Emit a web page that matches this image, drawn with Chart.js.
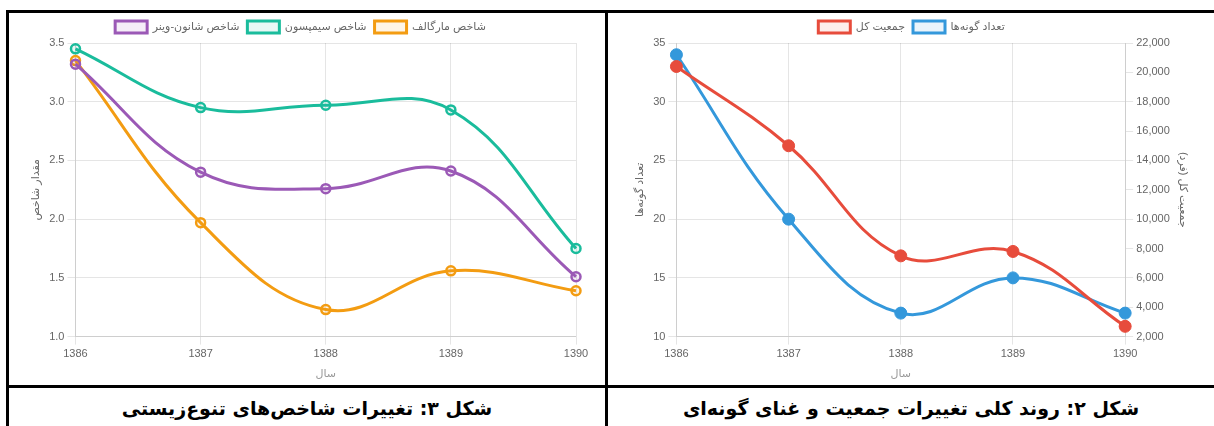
<!DOCTYPE html>
<html lang="fa">
<head>
<meta charset="utf-8">
<title>شکل ۲ و ۳</title>
<script src="https://cdn.jsdelivr.net/npm/chart.js@4.4.1/dist/chart.umd.min.js"></script>
<style>
  html, body { margin: 0; padding: 0; background: #fff; }
  body { width: 1214px; height: 426px; overflow: hidden; position: relative; }
  .frame { position: absolute; left: 6px; top: 10px; width: 1215px; height: 430px;
           border-left: 3px solid #000; border-top: 3px solid #000; box-sizing: border-box; }
  .vline { position: absolute; left: 605px; top: 10px; width: 3px; height: 430px; background: #000; }
  .hline { position: absolute; left: 6px; top: 385px; width: 1214px; height: 3px; background: #000; }
  .box { position: absolute; top: 13px; height: 372px; }
  #boxLeft { left: 9px; width: 596px; }
  #boxRight { left: 608px; width: 606px; }
  .cap { position: absolute; top: 388px; height: 40px; line-height: 40px; text-align: center;
         direction: rtl; font-family: 'DejaVu Sans', sans-serif; font-weight: bold; font-size: 19px; color: #000; }
  #capLeft { left: 9px; width: 596px; }
  #capRight { left: 608px; width: 606px; }
</style>
</head>
<body>
<div class="frame"></div>
<div class="vline"></div>
<div class="hline"></div>
<div class="box" id="boxLeft"><canvas id="indexChart"></canvas></div>
<div class="box" id="boxRight"><canvas id="speciesChart"></canvas></div>
<div class="cap" id="capLeft">شکل ۳: تغییرات شاخص‌های تنوع‌زیستی</div>
<div class="cap" id="capRight">شکل ۲: روند کلی تغییرات جمعیت و غنای گونه‌ای</div>

<script>
const years = ['1386','1387','1388','1389','1390'];

// شکل ۳
const shannon  = [3.32, 2.40, 2.26, 2.41, 1.51];
const simpson  = [3.45, 2.95, 2.97, 2.93, 1.75];
const margalef = [3.35, 1.97, 1.23, 1.56, 1.39];

// شکل ۲
const population = [20400, 15000, 7500, 7800, 2700];
const species    = [34, 20, 12, 15, 12];

Chart.defaults.font.family = "'Helvetica Neue', Helvetica, Arial, 'DejaVu Sans', sans-serif";
Chart.defaults.color = '#666';

function rgba(hex, a){
  const n = parseInt(hex.slice(1), 16);
  return 'rgba(' + (n >> 16) + ',' + ((n >> 8) & 255) + ',' + (n & 255) + ',' + a + ')';
}

function hollowLine(label, data, color){
  return {
    label: label, data: data,
    borderColor: color, backgroundColor: rgba(color, 0.1),
    borderWidth: 3, tension: 0.4, fill: false,
    pointRadius: 4.5, pointBorderWidth: 2.5,
    pointBackgroundColor: rgba(color, 0.1), pointBorderColor: color
  };
}

function solidLine(label, data, color, axis){
  return {
    label: label, data: data, yAxisID: axis,
    borderColor: color, backgroundColor: rgba(color, 0.1),
    borderWidth: 3, tension: 0.4, fill: false,
    pointRadius: 6, pointBorderWidth: 1,
    pointBackgroundColor: color, pointBorderColor: color
  };
}

const legendOpts = {
  position: 'top',
  labels: { boxWidth: 32, boxHeight: 12, padding: 8, font: { size: 11 } }
};

new Chart(document.getElementById('indexChart'), {
  type: 'line',
  data: {
    labels: years,
    datasets: [
      hollowLine('شاخص شانون-وینر', shannon, '#9b59b6'),
      hollowLine('شاخص سیمپسون', simpson, '#1abc9c'),
      hollowLine('شاخص مارگالف', margalef, '#f39c12')
    ]
  },
  options: {
    responsive: true,
    maintainAspectRatio: false,
    animation: false,
    layout: { padding: { left: 16, right: 29, top: 0, bottom: 0 } },
    plugins: { legend: legendOpts, tooltip: { enabled: false } },
    scales: {
      x: {
        title: { display: true, text: 'سال', font: { size: 11 }, color: '#999' },
        ticks: { font: { size: 11 } }
      },
      y: {
        min: 1.0, max: 3.5,
        ticks: { stepSize: 0.5, font: { size: 11 } },
        title: { display: true, text: 'مقدار شاخص', font: { size: 11 } }
      }
    }
  }
});

new Chart(document.getElementById('speciesChart'), {
  type: 'line',
  data: {
    labels: years,
    datasets: [
      solidLine('جمعیت کل', population, '#e74c3c', 'yPop'),
      solidLine('تعداد گونه‌ها', species, '#3498db', 'ySp')
    ]
  },
  options: {
    responsive: true,
    maintainAspectRatio: false,
    animation: false,
    layout: { padding: { left: 21, right: 20, top: 0, bottom: 0 } },
    plugins: { legend: legendOpts, tooltip: { enabled: false } },
    scales: {
      x: {
        title: { display: true, text: 'سال', font: { size: 11 }, color: '#999' },
        ticks: { font: { size: 11 } }
      },
      ySp: {
        position: 'left',
        min: 10, max: 35,
        ticks: { stepSize: 5, font: { size: 11 } },
        title: { display: true, text: 'تعداد گونه‌ها', font: { size: 11 } }
      },
      yPop: {
        position: 'right',
        min: 2000, max: 22000,
        ticks: { stepSize: 2000, font: { size: 11 } },
        grid: { drawOnChartArea: false },
        title: { display: true, text: 'جمعیت کل (فرد)\u200F', font: { size: 11 } }
      }
    }
  }
});
</script>
</body>
</html>
